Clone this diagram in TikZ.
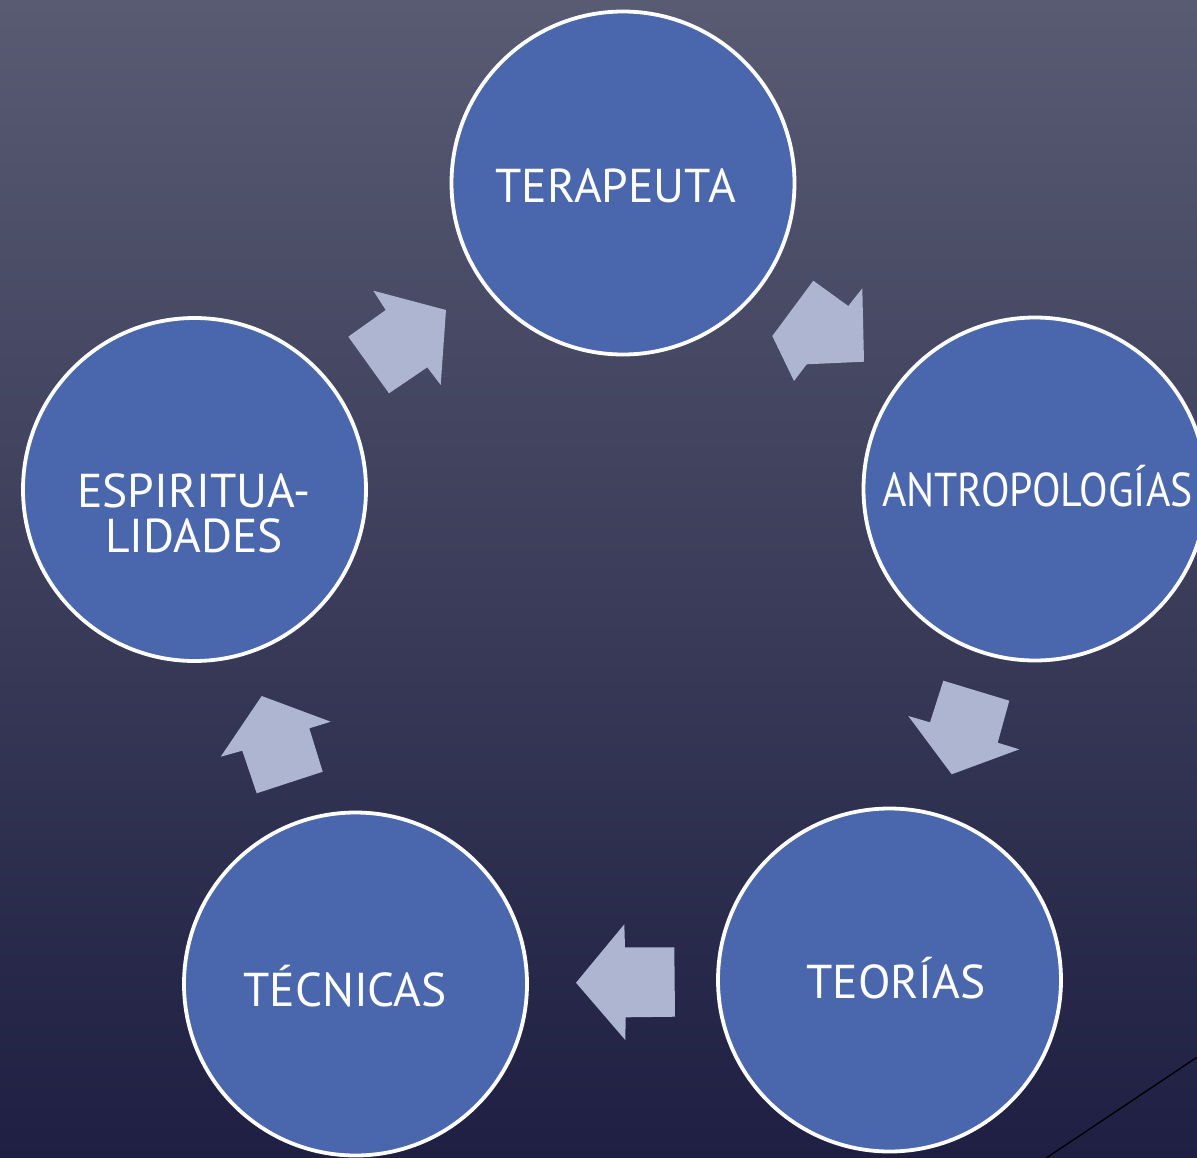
\documentclass[tikz,border=0pt]{standalone}
\usepackage{fontspec}
\setmainfont{PT Sans}
\definecolor{bgtop}{HTML}{585B72}
\definecolor{bgbot}{HTML}{1E1F42}
\definecolor{circfill}{HTML}{4A66AC}
\definecolor{arrfill}{HTML}{ADB5D0}
\begin{document}
\begin{tikzpicture}[x=1pt,y=-1pt,
  bubble/.style={circle,draw=white,line width=3.8pt,fill=circfill,minimum size=343pt,inner sep=0pt},
  lbl/.style={text=white,font=\fontsize{47.5}{51}\selectfont,inner sep=0pt,align=center},
  blockarrow/.style={fill=arrfill}]
\useasboundingbox (0,0) rectangle (1197,1157);
\clip (0,0) rectangle (1197,1157);
\shade[top color=bgtop,bottom color=bgbot] (0,0) rectangle (1197,1157);
% circles
\node[bubble] (ter) at (623,183) {};
\node[bubble] (ant) at (1035,489) {};
\node[bubble] (teo) at (889.5,980) {};
\node[bubble] (tec) at (355.5,984) {};
\node[bubble] (esp) at (194.5,489.5) {};
% labels
\node[lbl] (tterl) at (615.5,186) {TERAPEUTA};
\node[lbl,anchor=west] (tant) at (882,486) {\scalebox{0.88}[1]{ANTROPOLOGÍAS}};
\node[lbl] (tteo) at (896,978) {TEORÍAS};
\node[lbl] (ttec) at (345,986) {TÉCNICAS};
\node[lbl] (tesp) at (194,513) {ESPIRITUA-\\[-6pt]LIDADES};
% block arrows
\fill[blockarrow] (813.3,280.7) -- (848.3,306) -- (862.3,288.3) -- (864,361.7) -- (806.7,364.3) -- (794,381) -- (772.3,336) -- cycle;
\fill[blockarrow] (943.3,680.7) -- (1009.3,700.7) -- (997.7,742.7) -- (1019.3,749.3) -- (951.7,774.3) -- (908.3,716) -- (930,722.3) -- cycle;
\fill[blockarrow] (674.3,947.3) -- (625,947.3) -- (624.3,924.3) -- (576,982.7) -- (625.3,1040) -- (625.7,1017.3) -- (675,1016.7) -- cycle;
\fill[blockarrow] (261.7,696) -- (330.7,721.7) -- (309.3,728.3) -- (322.7,771.7) -- (256.7,793.3) -- (242.3,750.7) -- (220.7,756.7) -- cycle;
\fill[blockarrow] (373.3,290.7) -- (446,310) -- (440.7,385) -- (427.3,367.3) -- (389,393.3) -- (348.3,336.7) -- (385.7,310) -- cycle;
% corner line
\coordinate (la) at (1212,1047.2);
\coordinate (lb) at (1040,1162.2);
\draw[black,line width=1.3pt] (la) -- (lb);
\end{tikzpicture}
\end{document}
